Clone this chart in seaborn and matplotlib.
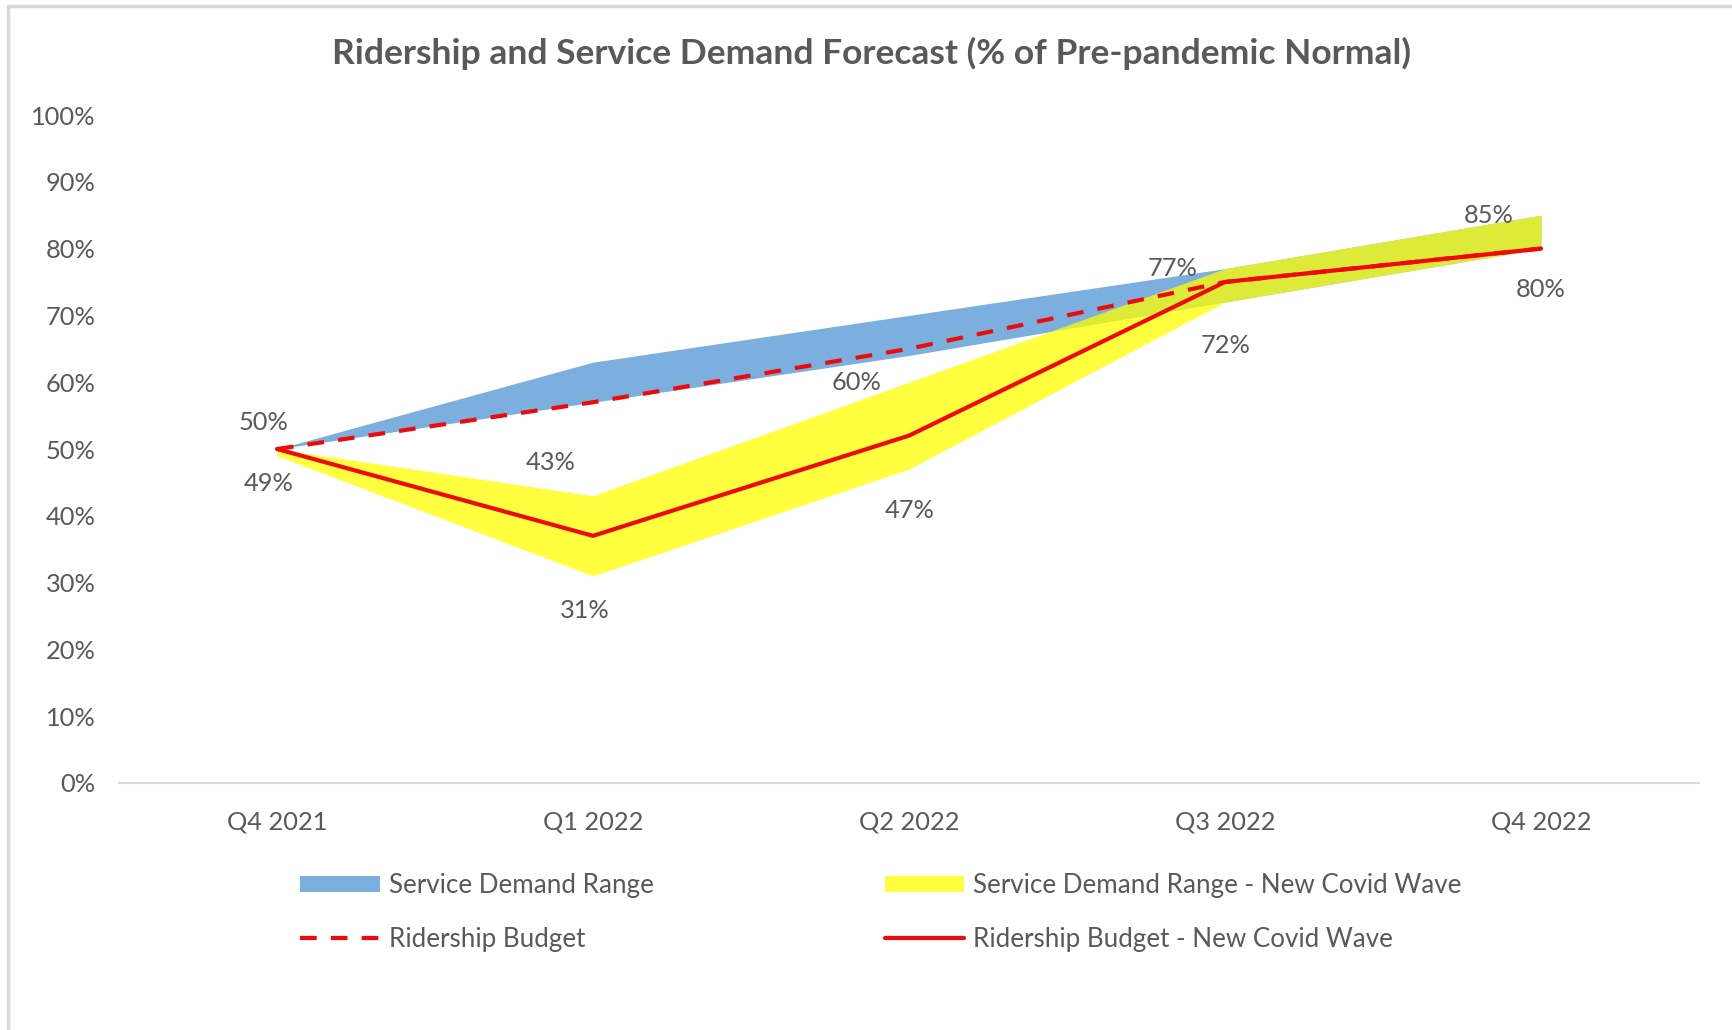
import matplotlib
matplotlib.use("Agg")
import matplotlib.pyplot as plt
import seaborn as sns
import pandas as pd
import numpy as np
from matplotlib.patches import Patch
from matplotlib.lines import Line2D

# ---- data ----
quarters = ["Q4 2021", "Q1 2022", "Q2 2022", "Q3 2022", "Q4 2022"]
demand_low = [50, 57, 64, 72, 80]
demand_high = [50, 63, 70, 77, 85]
covid_low = [49, 31, 47, 72, 80]
covid_high = [50, 43, 60, 77, 85]
ridership_budget = [50, 57, 65, 75, 80]
ridership_covid = [50, 37, 52, 75, 80]
y_ticks = [0, 10, 20, 30, 40, 50, 60, 70, 80, 90, 100]

# label offsets (pixels) for the data labels on the covid band
top_label_offsets = [(-13, 27), (-42, 33), (-52, 0), (-52, 0), (-52, 0)]
bottom_label_offsets = [(-8, -28), (-8, -35), (1, -41), (1, -43), (0, -41)]

sns.set_theme(style="white")
plt.rcParams["font.family"] = ["Lato", "DejaVu Sans"]

TEXT = "#595959"
BLUE = "#7BAFDE"
YELLOW = "#FFFF00"
RED = "#EE0A0A"
FS = 18.3

fig = plt.figure(figsize=(17.32, 10.30), dpi=100)
ax = fig.add_axes([119 / 1732, 1 - 783 / 1030, (1699 - 119) / 1732, 668 / 1030])

xpos = np.arange(len(quarters))
ax.fill_between(xpos, demand_low, demand_high, color=BLUE, linewidth=0, zorder=1)
ax.fill_between(xpos, covid_low, covid_high, color=YELLOW, alpha=0.75, linewidth=0, zorder=2)

df = pd.DataFrame({"quarter": quarters,
                   "budget": ridership_budget,
                   "covid": ridership_covid})
sns.lineplot(data=df, x="quarter", y="budget", ax=ax, color=RED, linewidth=3.0,
             zorder=3, sort=False)
ax.lines[-1].set_dashes((4.0, 3.4))
sns.lineplot(data=df, x="quarter", y="covid", ax=ax, color=RED, linewidth=3.0,
             zorder=4, sort=False)

for i, (v, off) in enumerate(zip(covid_high, top_label_offsets)):
    ax.annotate(f"{v}%", xy=(i, v), xytext=off, textcoords="offset pixels",
                ha="center", va="center", fontsize=FS, color=TEXT, zorder=5)
for i, (v, off) in enumerate(zip(covid_low, bottom_label_offsets)):
    ax.annotate(f"{v}%", xy=(i, v), xytext=off, textcoords="offset pixels",
                ha="center", va="center", fontsize=FS, color=TEXT, zorder=5)

ax.set_xlim(-0.5, len(quarters) - 0.5)
ax.set_ylim(0, 100)
ax.set_xticks(xpos)
ax.set_xticklabels(quarters)
ax.set_yticks(y_ticks)
ax.set_yticklabels([f"{t}%" for t in y_ticks])
ax.tick_params(axis="both", length=0, labelsize=FS, labelcolor=TEXT)
ax.tick_params(axis="x", pad=19.5)
ax.tick_params(axis="y", pad=17)
ax.set_xlabel("")
ax.set_ylabel("")
for s in ["top", "right", "left"]:
    ax.spines[s].set_visible(False)
ax.spines["bottom"].set_color("#D9D9D9")
ax.spines["bottom"].set_linewidth(1.5)
ax.grid(False)
ax.set_facecolor("none")

fig.text(871 / 1732, 1 - 53 / 1030,
         "Ridership and Service Demand Forecast (% of Pre-pandemic Normal)",
         ha="center", va="center", fontsize=25.5, fontweight="bold", color=TEXT)

handles = [
    Patch(facecolor=BLUE, edgecolor="none"),
    Line2D([], [], color=RED, linewidth=3.0, dashes=(4.0, 3.4)),
    Patch(facecolor=YELLOW, edgecolor="none", alpha=0.75),
    Line2D([], [], color=RED, linewidth=3.0),
]
labels = ["Service Demand Range", "Ridership Budget",
          "Service Demand Range - New Covid Wave", "Ridership Budget - New Covid Wave"]
leg = fig.legend(handles, labels, ncol=2, loc="upper left",
                 bbox_to_anchor=(300 / 1732, 1 - 873 / 1030),
                 frameon=False, fontsize=18.7, handlelength=3.07, handleheight=0.55,
                 handletextpad=0.34, columnspacing=8.9, labelspacing=1.1,
                 borderpad=0, borderaxespad=0)
for t in leg.get_texts():
    t.set_color(TEXT)

# outer chart frame (top and left edges visible)
fig.add_artist(Line2D([8 / 1732, 8 / 1732], [0, 1 - 6 / 1030], transform=fig.transFigure,
                      color="#D9D9D9", linewidth=2.5))
fig.add_artist(Line2D([8 / 1732, 1], [1 - 6 / 1030, 1 - 6 / 1030], transform=fig.transFigure,
                      color="#D9D9D9", linewidth=2.5))

fig.savefig("out.png", dpi=100, facecolor="white")
